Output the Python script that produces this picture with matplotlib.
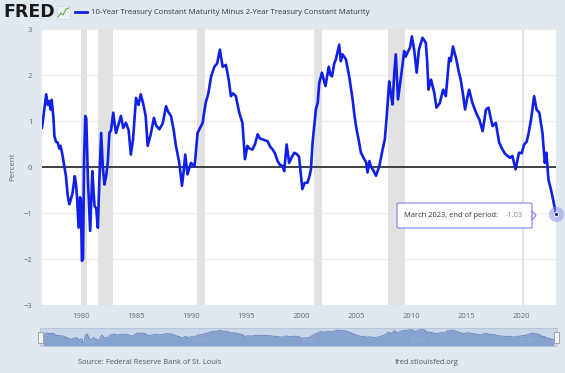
#!/usr/bin/env python3
import matplotlib
matplotlib.use("Agg")
import matplotlib.pyplot as plt
from matplotlib.patches import FancyBboxPatch, Rectangle, Polygon

# 10-Year minus 2-Year Treasury constant maturity (decimal year, percent)
years = [
    1976.42, 1976.6, 1976.8, 1976.95, 1977.1, 1977.2, 1977.3, 1977.45, 1977.55, 1977.7,
    1977.85, 1978.0, 1978.1, 1978.25, 1978.45, 1978.6, 1978.75, 1978.9, 1979.05, 1979.2,
    1979.4, 1979.5, 1979.6, 1979.75, 1979.88, 1979.95, 1980.05, 1980.15, 1980.25, 1980.36,
    1980.45, 1980.6, 1980.8, 1981.0, 1981.1, 1981.2, 1981.35, 1981.5, 1981.65, 1981.8,
    1981.95, 1982.1, 1982.25, 1982.4, 1982.55, 1982.7, 1982.9, 1983.05, 1983.15, 1983.35,
    1983.6, 1983.8, 1984.05, 1984.3, 1984.5, 1984.7, 1984.97, 1985.2, 1985.4, 1985.6,
    1985.85, 1986.03, 1986.3, 1986.6, 1986.8, 1987.1, 1987.4, 1987.7, 1987.9, 1988.15,
    1988.4, 1988.6, 1988.9, 1989.15, 1989.3, 1989.45, 1989.65, 1989.97, 1990.3, 1990.57,
    1990.8, 1991.03, 1991.3, 1991.55, 1991.8, 1992.1, 1992.35, 1992.6, 1992.85, 1993.15,
    1993.4, 1993.6, 1993.8, 1994.05, 1994.36, 1994.65, 1994.88, 1995.1, 1995.3, 1995.57,
    1995.8, 1996.03, 1996.25, 1996.5, 1996.7, 1996.94, 1997.15, 1997.4, 1997.6, 1997.85,
    1998.05, 1998.3, 1998.45, 1998.67, 1998.9, 1999.1, 1999.36, 1999.6, 1999.8, 2000.1,
    2000.3, 2000.57, 2000.75, 2000.88, 2001.03, 2001.33, 2001.5, 2001.64, 2001.88, 2002.05,
    2002.2, 2002.5, 2002.65, 2002.8, 2003.0, 2003.15, 2003.45, 2003.6, 2003.75, 2004.06,
    2004.36, 2004.67, 2004.85, 2005.03, 2005.25, 2005.43, 2005.73, 2005.9, 2006.03, 2006.2,
    2006.35, 2006.5, 2006.8, 2007.1, 2007.4, 2007.6, 2007.75, 2008.0, 2008.15, 2008.3,
    2008.45, 2008.6, 2008.8, 2009.06, 2009.2, 2009.36, 2009.5, 2009.67, 2009.9, 2010.06,
    2010.27, 2010.5, 2010.7, 2011.03, 2011.33, 2011.45, 2011.57, 2011.8, 2012.1, 2012.3,
    2012.6, 2012.9, 2013.15, 2013.45, 2013.6, 2013.8, 2014.1, 2014.3, 2014.5, 2014.7,
    2014.9, 2015.1, 2015.27, 2015.57, 2015.9, 2016.2, 2016.5, 2016.8, 2017.03, 2017.2,
    2017.4, 2017.7, 2018.0, 2018.3, 2018.5, 2018.75, 2019.0, 2019.2, 2019.5, 2019.8,
    2020.05, 2020.27, 2020.5, 2020.66, 2020.9, 2021.18, 2021.4, 2021.65, 2021.94, 2022.15,
    2022.3, 2022.48, 2022.7, 2022.9, 2023.17,
]
spread = [
    0.85, 1.2, 1.58, 1.35, 1.43, 1.25, 1.46, 1.1, 0.67, 0.55,
    0.53, 0.4, 0.46, 0.3, 0.02, -0.2, -0.6, -0.81, -0.7, -0.56,
    -0.2, -0.35, -0.63, -1.32, -0.66, -0.7, -2.04, -2.0, 0.2, 1.11,
    1.05, -0.3, -1.39, -0.09, -0.5, -0.85, -0.9, -1.32, -0.2, 0.74,
    0.0, -0.38, -0.2, 0.09, 0.74, 0.8, 1.18, 0.9, 0.74, 0.9,
    1.11, 0.85, 0.96, 0.8, 0.27, 0.6, 1.5, 1.35, 1.58, 1.4,
    1.11, 0.46, 0.7, 1.07, 0.9, 0.82, 0.95, 1.32, 1.2, 1.11,
    0.8, 0.46, 0.1, -0.41, -0.1, 0.27, -0.16, 0.09, 0.01, 0.74,
    0.85, 0.96, 1.39, 1.6, 1.97, 2.18, 2.25, 2.55, 2.18, 2.22,
    1.9, 1.54, 1.6, 1.54, 1.18, 0.96, 0.17, 0.46, 0.4, 0.38,
    0.5, 0.71, 0.62, 0.6, 0.58, 0.56, 0.45, 0.38, 0.3, 0.13,
    0.05, 0.02, -0.09, 0.49, 0.09, 0.2, 0.31, 0.28, 0.22, -0.48,
    -0.35, -0.34, -0.2, -0.05, 0.53, 1.25, 1.4, 1.83, 2.05, 1.9,
    1.76, 2.18, 2.0, 1.97, 2.25, 2.34, 2.66, 2.3, 2.45, 2.34,
    1.97, 1.47, 1.1, 0.82, 0.55, 0.31, 0.17, 0.1, -0.12, 0.13,
    0.0, -0.05, -0.19, 0.02, 0.38, 0.6, 1.03, 1.86, 1.6, 1.36,
    2.0, 2.45, 1.47, 1.94, 2.2, 2.52, 2.4, 2.49, 2.6, 2.84,
    2.55, 2.05, 2.55, 2.81, 2.7, 2.3, 1.68, 1.9, 1.61, 1.29,
    1.39, 1.68, 1.54, 2.37, 2.3, 2.62, 2.34, 2.1, 1.9, 1.6,
    1.25, 1.5, 1.68, 1.39, 1.18, 1.03, 0.78, 1.25, 1.29, 1.1,
    0.89, 0.96, 0.53, 0.38, 0.3, 0.24, 0.2, 0.24, -0.05, 0.31,
    0.3, 0.49, 0.55, 0.71, 1.03, 1.54, 1.25, 1.18, 0.74, 0.09,
    0.31, -0.27, -0.48, -0.7, -1.03,
]

# NBER recessions (start, end) in decimal years
recessions = [(1980.0, 1980.5), (1981.5, 1982.87), (1990.5, 1991.2),
              (2001.17, 2001.87), (2007.92, 2009.45), (2020.08, 2020.25)]

x_ticks = [1980, 1985, 1990, 1995, 2000, 2005, 2010, 2015, 2020]
y_ticks = [-3, -2, -1, 0, 1, 2, 3]
nav_labels = [1980, 1990, 2000, 2010, 2020]

W, H = 565, 373
BG = "#e1e9f0"
LINE = "#1020e6"
plt.rcParams["font.family"] = ["Open Sans", "DejaVu Sans"]


def fx(px):
    return px / W


def fy(py):
    return 1 - py / H


fig = plt.figure(figsize=(W / 100, H / 100), dpi=100, facecolor=BG)

# main plot
ax = fig.add_axes([fx(42), fy(305), (556 - 42) / W, (305 - 29) / H])
ax.set_facecolor("white")
for s in ax.spines.values():
    s.set_visible(False)
for a, b in recessions:
    ax.axvspan(a, b, color="#e2e2e2", lw=0, zorder=1)
for t in y_ticks:
    ax.axhline(t, color="#ececec", lw=0.8, zorder=0.5)
ax.axhline(0, color="#222222", lw=1.2, zorder=2)
ax.plot(years, spread, color=LINE, lw=1.9, zorder=3, solid_joinstyle="round")
ax.set_xlim(years[0], years[-1])
ax.set_ylim(-3, 3)
ax.set_xticks(x_ticks)
ax.set_yticks(y_ticks)
ax.tick_params(length=0, labelsize=5.5, labelcolor="#666666")
ax.tick_params(axis="x", pad=6)
ax.tick_params(axis="y", pad=7)
ax.set_ylabel("Percent", fontsize=5.8, color="#666666", labelpad=5)

# end-point marker with halo
ax.plot(years[-1], spread[-1], "o", ms=11, color="#8f95ee", alpha=0.55,
        mec="none", zorder=4, clip_on=False)
ax.plot(years[-1], spread[-1], "o", ms=3, color="#1a237e", mec="white",
        mew=0.6, zorder=5, clip_on=False)

# tooltip
box = FancyBboxPatch((fx(397), fy(228)), fx(532) - fx(397), fy(203) - fy(228),
                     boxstyle="round,pad=0,rounding_size=0.004",
                     transform=fig.transFigure, facecolor="white",
                     edgecolor="#7c7ff0", lw=0.8, zorder=10)
fig.patches.append(box)
arrow = Polygon([[fx(532), fy(211)], [fx(536), fy(215.5)], [fx(532), fy(220)]],
                closed=True, transform=fig.transFigure, facecolor="white",
                edgecolor="#7c7ff0", lw=0.8, zorder=11)
fig.patches.append(arrow)
fig.text(fx(404), fy(215.5), "March 2023, end of period:", fontsize=5.4,
         color="#333333", va="center", ha="left", zorder=12)
fig.text(fx(523), fy(215.5), "-1.03", fontsize=5.4, color="#888888",
         va="center", ha="right", zorder=12)

# navigator
nav = fig.add_axes([fx(40), fy(346), (557 - 40) / W, (346 - 328) / H])
nav.set_facecolor("#c9d6ea")
for s in nav.spines.values():
    s.set_color("#b5c3d8")
    s.set_linewidth(0.6)
nav.fill_between(years, spread, -3.4, color="#86a2d0", lw=0)
nav.plot(years, spread, color="#6582b8", lw=0.6)
nav.set_xlim(years[0] - 0.3, years[-1] + 0.3)
nav.set_ylim(-3.4, 3.4)
nav.set_xticks([])
nav.set_yticks([])
for yr in nav_labels:
    nav.text(yr, -1.6, str(yr), fontsize=5, color="#9ab0d6", ha="left",
             va="center")
for hx in (40, 556):
    fig.patches.append(Rectangle((fx(hx - 2.5), fy(343)), 5 / W, 11 / H,
                                 transform=fig.transFigure, facecolor="#f4f4f4",
                                 edgecolor="#999999", lw=0.6, zorder=6))

# header
fig.text(fx(3), fy(12), "FRED", fontsize=12.5, fontweight="heavy",
         family="DejaVu Sans", color="#1a1a1a", va="center", ha="left")
fig.patches.append(Rectangle((fx(57), fy(19)), 13 / W, 13 / H,
                             transform=fig.transFigure, facecolor="#eef2f6",
                             edgecolor="#c9d2dc", lw=0.4))
fig.lines.append(plt.Line2D([fx(58), fx(61), fx(63), fx(66), fx(69)],
                            [fy(17), fy(13), fy(15), fy(9), fy(8)],
                            transform=fig.transFigure, color="#6aa84f", lw=0.8))
fig.lines.append(plt.Line2D([fx(75), fx(87)], [fy(12), fy(12)],
                            transform=fig.transFigure, color=LINE, lw=2))
fig.text(fx(91), fy(12), "10-Year Treasury Constant Maturity Minus 2-Year "
         "Treasury Constant Maturity", fontsize=5.6, color="#333333",
         va="center", ha="left")

# footer
fig.text(fx(78), fy(362), "Source: Federal Reserve Bank of St. Louis",
         fontsize=5.4, color="#555555", va="center", ha="left")
fig.text(fx(395), fy(362), "fred.stlouisfed.org", fontsize=5.4,
         color="#555555", va="center", ha="left")

fig.savefig("out.png", dpi=100, facecolor=BG)
